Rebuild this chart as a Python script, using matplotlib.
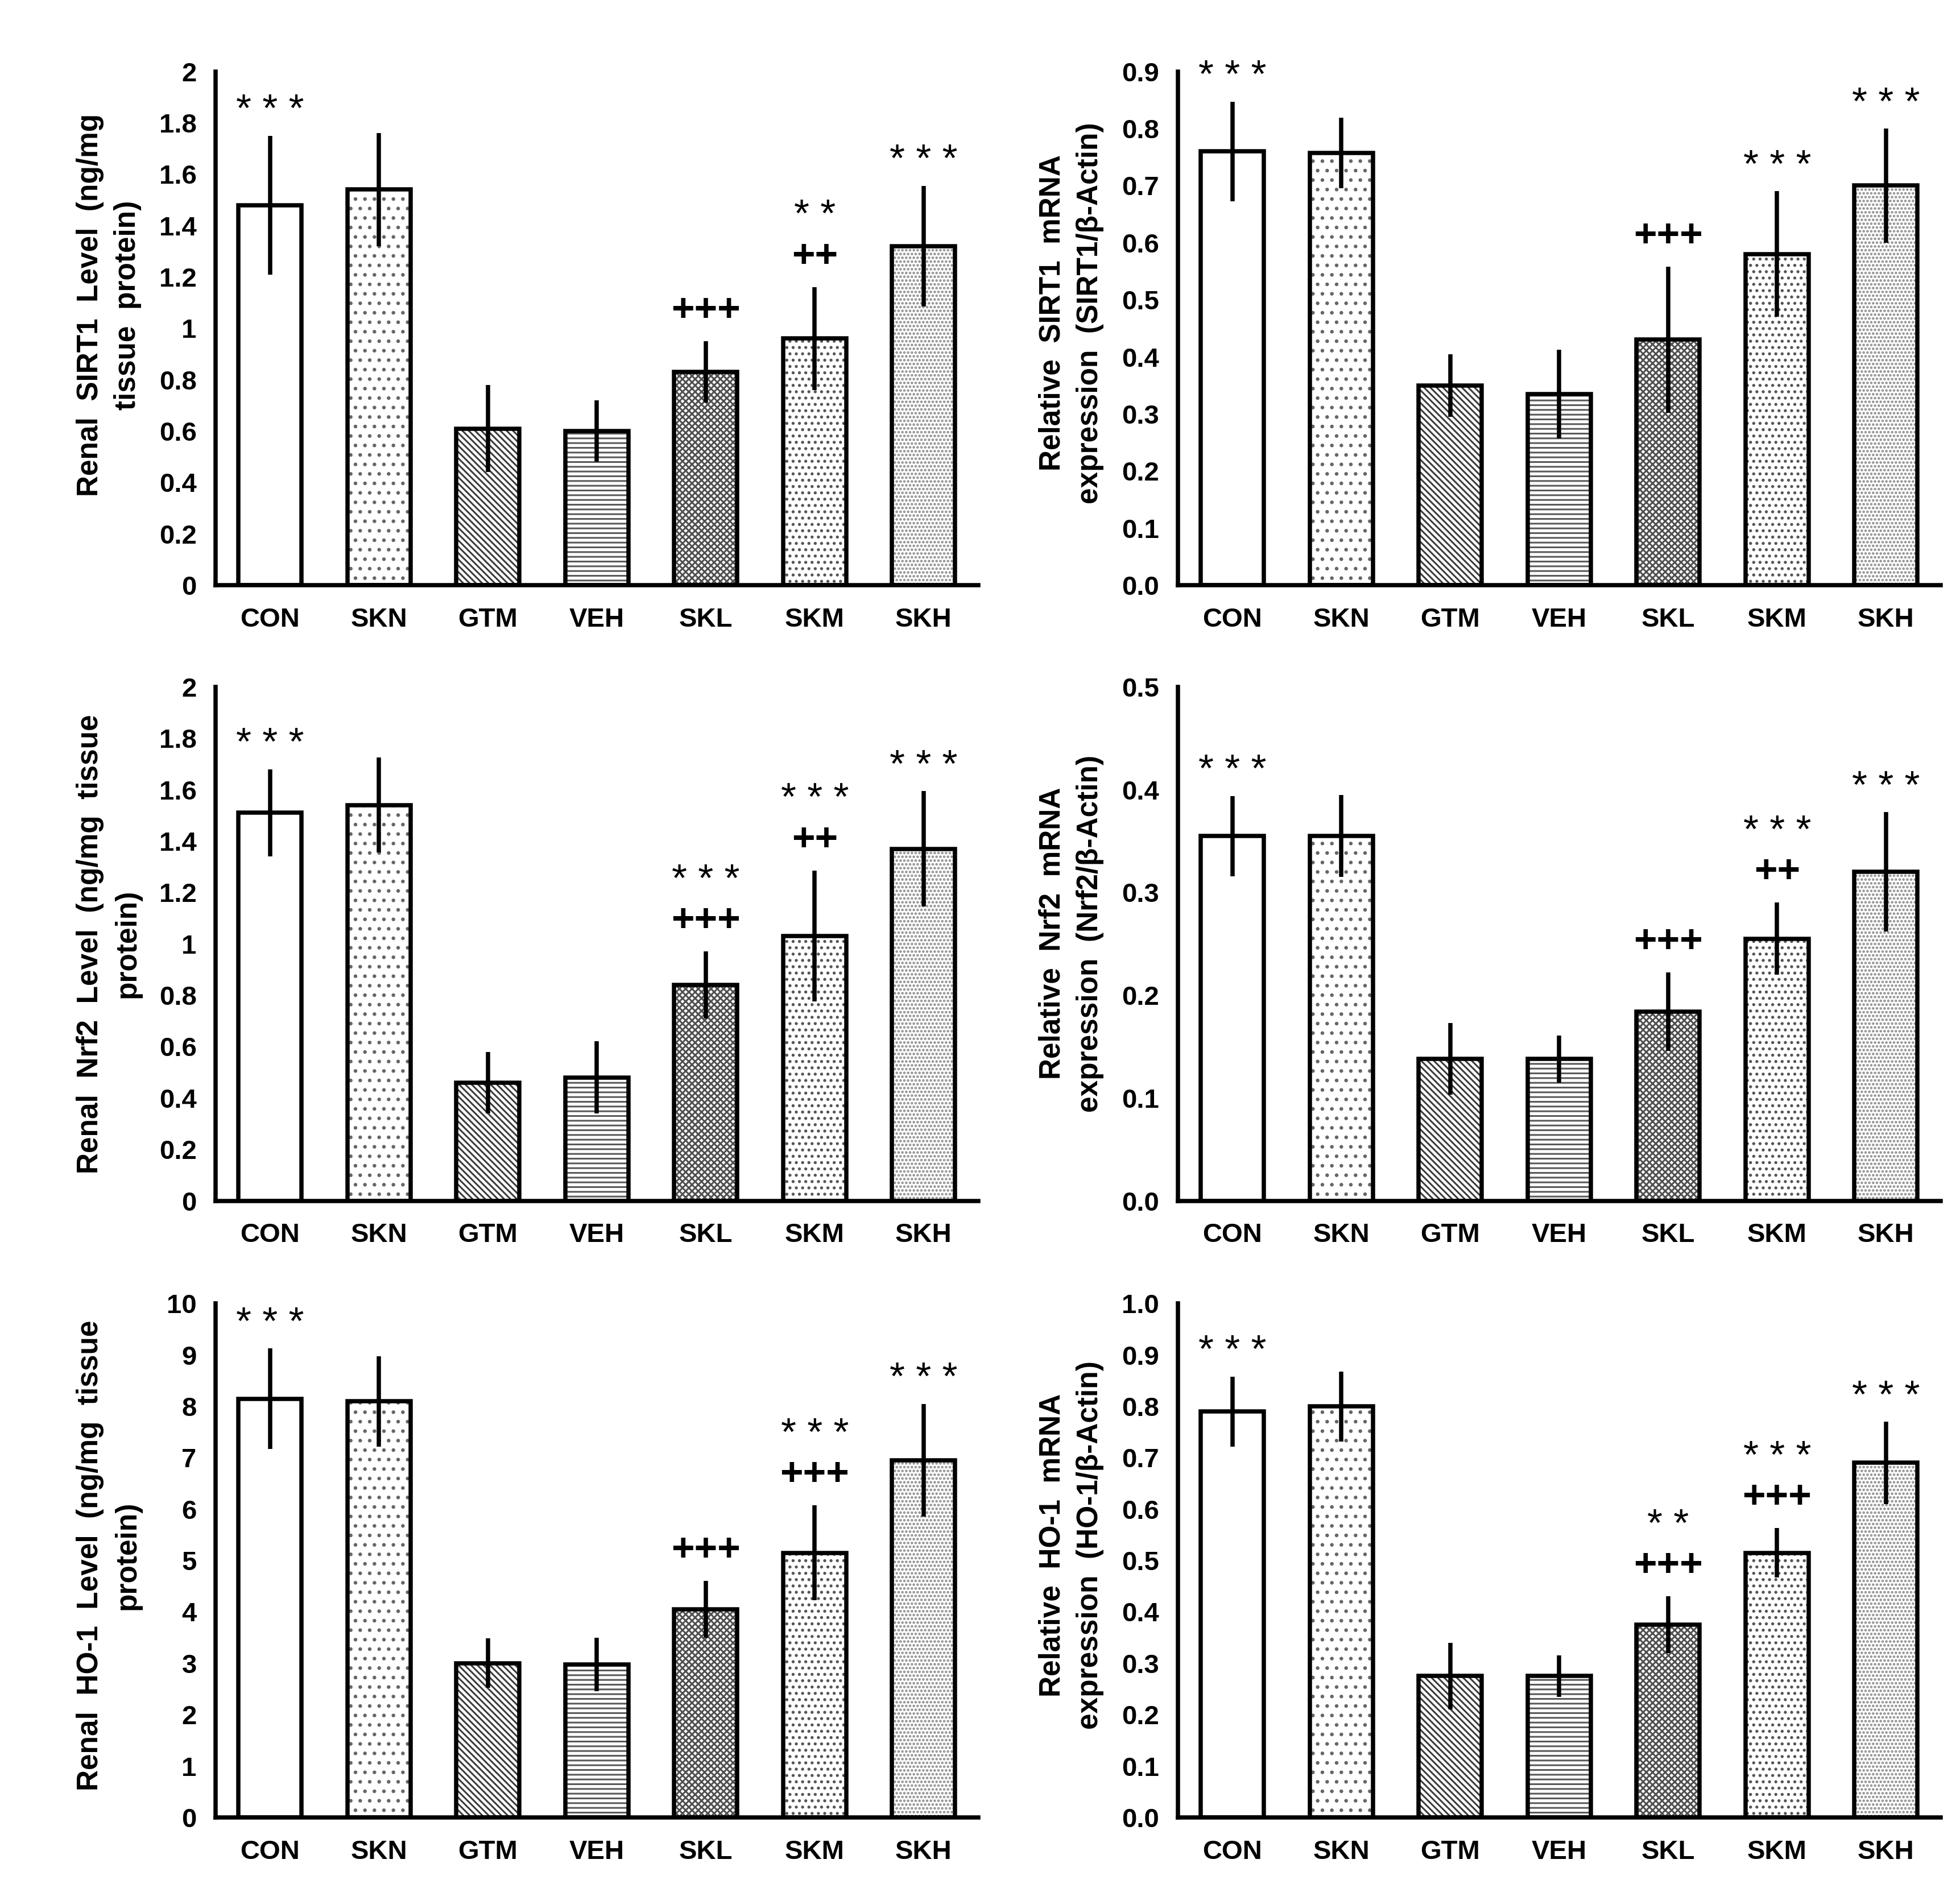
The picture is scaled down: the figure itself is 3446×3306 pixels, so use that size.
import matplotlib

matplotlib.use("Agg")

import matplotlib.pyplot as plt  # noqa: E402
import numpy as np  # noqa: E402

# ---- data ----
groups = ["CON", "SKN", "GTM", "VEH", "SKL", "SKM", "SKH"]

sirt1_protein = [1.48, 1.54, 0.61, 0.60, 0.83, 0.96, 1.32]
sirt1_protein_err = [0.27, 0.22, 0.17, 0.12, 0.12, 0.20, 0.235]
sirt1_protein_marks = [["* * *"], [], [], [], ["+++"], ["++", "* *"], ["* * *"]]

sirt1_mrna = [0.76, 0.757, 0.35, 0.335, 0.43, 0.58, 0.70]
sirt1_mrna_err = [0.087, 0.062, 0.055, 0.078, 0.128, 0.11, 0.10]
sirt1_mrna_marks = [["* * *"], [], [], [], ["+++"], ["* * *"], ["* * *"]]

nrf2_protein = [1.51, 1.54, 0.46, 0.48, 0.84, 1.03, 1.37]
nrf2_protein_err = [0.17, 0.185, 0.12, 0.14, 0.13, 0.255, 0.225]
nrf2_protein_marks = [["* * *"], [], [], [], ["+++", "* * *"], ["++", "* * *"], ["* * *"]]

nrf2_mrna = [0.355, 0.355, 0.138, 0.138, 0.184, 0.255, 0.32]
nrf2_mrna_err = [0.039, 0.04, 0.035, 0.023, 0.038, 0.035, 0.058]
nrf2_mrna_marks = [["* * *"], [], [], [], ["+++"], ["++", "* * *"], ["* * *"]]

ho1_protein = [8.15, 8.10, 3.0, 2.98, 4.05, 5.15, 6.95]
ho1_protein_err = [0.98, 0.88, 0.48, 0.52, 0.55, 0.92, 1.10]
ho1_protein_marks = [["* * *"], [], [], [], ["+++"], ["+++", "* * *"], ["* * *"]]

ho1_mrna = [0.79, 0.80, 0.275, 0.275, 0.375, 0.515, 0.69]
ho1_mrna_err = [0.068, 0.068, 0.065, 0.04, 0.055, 0.048, 0.08]
ho1_mrna_marks = [["* * *"], [], [], [], ["+++", "* *"], ["+++", "* * *"], ["* * *"]]

protein_ticks = ["0", "0.2", "0.4", "0.6", "0.8", "1", "1.2", "1.4", "1.6", "1.8", "2"]
sirt1_mrna_ticks = ["0.0", "0.1", "0.2", "0.3", "0.4", "0.5", "0.6", "0.7", "0.8", "0.9"]
nrf2_mrna_ticks = ["0.0", "0.1", "0.2", "0.3", "0.4", "0.5"]
ho1_protein_ticks = ["0", "1", "2", "3", "4", "5", "6", "7", "8", "9", "10"]
ho1_mrna_ticks = ["0.0", "0.1", "0.2", "0.3", "0.4", "0.5", "0.6", "0.7", "0.8", "0.9", "1.0"]

# ---- styling ----
plt.rcParams["font.family"] = ["Liberation Sans", "DejaVu Sans"]
plt.rcParams["hatch.linewidth"] = 1.1

BAR_STYLES = [
    # (hatch, hatch colour)
    (None, "white"),
    ("..", "#666666"),
    ("\\\\\\\\\\\\", "#3c3c3c"),
    ("----", "#5a5a5a"),
    ("xxxxxx", "#505050"),
    ("...", "#555555"),
    (".....", "#8a8a8a"),
]
LW = 2.7


def draw_panel(ax, values, errors, marks, ylim, tick_labels, ylabel, label_y):
    x = np.arange(len(groups))
    width = 0.58
    filled = ax.bar(x, values, width=width, color="white", linewidth=0, zorder=2)
    for patch, (hatch, hcolor) in zip(filled, BAR_STYLES):
        patch.set_edgecolor(hcolor)
        if hatch:
            patch.set_hatch(hatch)
    ax.bar(x, values, width=width, fill=False, edgecolor="black", linewidth=LW, zorder=3)
    ax.errorbar(x, values, yerr=errors, fmt="none", ecolor="black",
                elinewidth=LW, capsize=0, zorder=4)

    # significance marks stacked above the error bars
    span = ylim[1] - ylim[0]
    for i, lines in enumerate(marks):
        y = values[i] + errors[i] + 0.06 * span
        for k, line in enumerate(lines):
            is_star = "*" in line
            shift = -0.012 * span if (is_star and k == 0) else 0.0
            ax.text(x[i], y + shift, line, ha="center", va="center",
                    fontsize=25, fontweight="normal" if is_star else "bold", zorder=5)
            y += 0.078 * span

    ax.set_xlim(-0.5, 6.5)
    ax.set_ylim(*ylim)
    ticks = np.linspace(ylim[0], ylim[1], len(tick_labels))
    ax.set_yticks(ticks)
    ax.set_yticklabels(tick_labels)
    ax.set_xticks(x)
    ax.set_xticklabels(groups)
    for label in ax.get_xticklabels() + ax.get_yticklabels():
        label.set_fontweight("bold")
        label.set_fontsize(17)
    ax.tick_params(axis="y", length=0, pad=12)
    ax.tick_params(axis="x", length=0, pad=14)
    for side in ("top", "right"):
        ax.spines[side].set_visible(False)
    for side in ("left", "bottom"):
        ax.spines[side].set_linewidth(LW)
    ax.set_ylabel(ylabel, fontsize=18.5, fontweight="bold", linespacing=1.45)
    ax.yaxis.set_label_coords(-0.097, label_y)


fig = plt.figure(figsize=(3446 / 200, 3306 / 200), dpi=200)

col_x = [0.110, 0.601]
row_y = [0.6887, 0.3613, 0.0333]
w, h = 0.389, 0.2733

panels = [
    (0, 0, sirt1_protein, sirt1_protein_err, sirt1_protein_marks, (0, 2), protein_ticks,
     "Renal  SIRT1  Level  (ng/mg\ntissue  protein)", 0.545),
    (1, 0, sirt1_mrna, sirt1_mrna_err, sirt1_mrna_marks, (0, 0.9), sirt1_mrna_ticks,
     "Relative  SIRT1  mRNA\nexpression  (SIRT1/β-Actin)", 0.53),
    (0, 1, nrf2_protein, nrf2_protein_err, nrf2_protein_marks, (0, 2), protein_ticks,
     "Renal  Nrf2  Level  (ng/mg  tissue\nprotein)", 0.5),
    (1, 1, nrf2_mrna, nrf2_mrna_err, nrf2_mrna_marks, (0, 0.5), nrf2_mrna_ticks,
     "Relative  Nrf2  mRNA\nexpression  (Nrf2/β-Actin)", 0.52),
    (0, 2, ho1_protein, ho1_protein_err, ho1_protein_marks, (0, 10), ho1_protein_ticks,
     "Renal  HO-1  Level  (ng/mg  tissue\nprotein)", 0.51),
    (1, 2, ho1_mrna, ho1_mrna_err, ho1_mrna_marks, (0, 1.0), ho1_mrna_ticks,
     "Relative  HO-1  mRNA\nexpression  (HO-1/β-Actin)", 0.53),
]

for col, row, vals, errs, marks, ylim, ticks, ylabel, label_y in panels:
    ax = fig.add_axes([col_x[col], row_y[row], w, h])
    draw_panel(ax, vals, errs, marks, ylim, ticks, ylabel, label_y)

fig.savefig("out.png", dpi=200, facecolor="white")
